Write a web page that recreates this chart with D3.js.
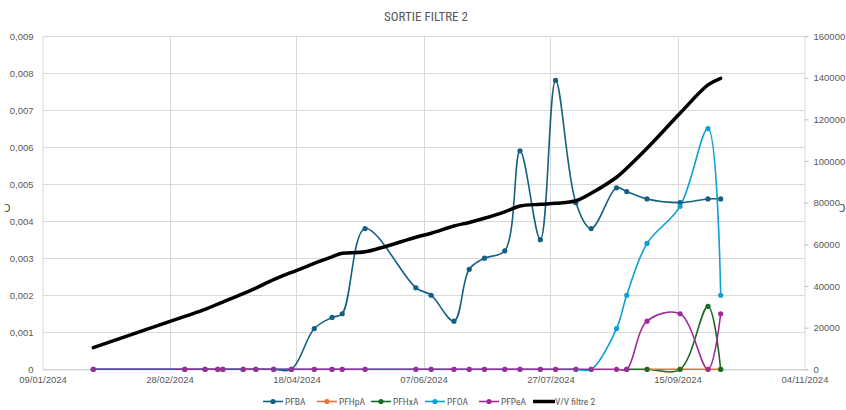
<!DOCTYPE html>
<html>
<head>
<meta charset="utf-8">
<script src="https://cdn.jsdelivr.net/npm/d3@7"></script>
<style>
  body { margin: 0; background: #fff; }
  svg { display: block; font-family: "Liberation Sans Narrow", "Roboto Condensed", "DejaVu Sans Condensed", sans-serif; }
</style>
</head>
<body>
<svg id="chart" width="846" height="410"></svg>
<script>
// sample dates (one row per measure)
var dates = [
  "2024-01-29", "2024-03-05", "2024-03-13", "2024-03-18", "2024-03-20",
  "2024-03-28", "2024-04-02", "2024-04-09", "2024-04-16", "2024-04-25",
  "2024-05-02", "2024-05-06", "2024-05-15", "2024-06-04", "2024-06-10",
  "2024-06-19", "2024-06-25", "2024-07-01", "2024-07-09", "2024-07-15",
  "2024-07-23", "2024-07-29", "2024-08-06", "2024-08-12", "2024-08-22",
  "2024-08-26", "2024-09-03", "2024-09-16", "2024-09-27", "2024-10-02"
];

var pfba = [0, 0, 0, 0, 0, 0, 0, 0, 0, 0.0011,
  0.0014, 0.0015, 0.0038, 0.0022, 0.002, 0.0013, 0.0027, 0.003, 0.0032, 0.0059,
  0.0035, 0.0078, 0.0045, 0.0038, 0.0049, 0.0048, 0.0046, 0.0045, 0.0046, 0.0046];

var pfhpa = [null, null, null, null, null, null, null, null, null, null,
  null, null, null, null, null, null, null, null, null, null,
  null, null, null, null, null, null, 0, 0, 0, 0];

var pfhxa = [null, null, null, null, null, null, null, null, null, null,
  null, null, null, null, null, null, null, null, null, null,
  null, null, null, null, null, 0, 0, 0, 0.0017, 0];

var pfoa = [0, 0, 0, 0, 0, 0, 0, 0, 0, 0,
  0, 0, 0, 0, 0, 0, 0, 0, 0, 0,
  0, 0, 0, 0, 0.0011, 0.002, 0.0034, 0.0044, 0.0065, 0.002];

var pfpea = [0, 0, 0, 0, 0, 0, 0, 0, 0, 0,
  0, 0, 0, 0, 0, 0, 0, 0, 0, 0,
  0, 0, 0, 0, 0, 0, 0.0013, 0.0015, 0, 0.0015];

var vvFiltre = [10400, 25400, 28800, 31300, 32300, 36300, 39000, 43000, 46500, 50900,
  54000, 55700, 56400, 63400, 65300, 68800, 70500, 72500, 75600, 78400,
  79200, 79700, 80900, 84500, 92200, 96500, 106100, 122900, 136500, 139700];

var xTicks = ["2024-01-09", "2024-02-28", "2024-04-18", "2024-06-07", "2024-07-27", "2024-09-15", "2024-11-04"];
var leftTicks = [0, 0.001, 0.002, 0.003, 0.004, 0.005, 0.006, 0.007, 0.008, 0.009];
var rightTicks = [0, 20000, 40000, 60000, 80000, 100000, 120000, 140000, 160000];

var seriesNames = ["PFBA", "PFHpA", "PFHxA", "PFOA", "PFPeA"];
var seriesValues = [pfba, pfhpa, pfhxa, pfoa, pfpea];
var seriesColors = ["#156082", "#E97132", "#196B24", "#0F9ED5", "#A02B93"];

var parseDate = d3.utcParse("%Y-%m-%d");
var fmtDate = d3.utcFormat("%d/%m/%Y");

var dims = { left: 42.5, right: 804.5, top: 36, bottom: 369.3 };
var textColor = "#595959";
var gridColor = "#d9d9d9";

var svg = d3.select("#chart");

// scales
var xScale = d3
  .scaleUtc()
  .domain([parseDate(xTicks[0]), parseDate(xTicks[xTicks.length - 1])])
  .range([dims.left, dims.right]);

var yLeft = d3
  .scaleLinear()
  .domain([0, 0.009])
  .range([dims.bottom, dims.top]);

var yRight = d3
  .scaleLinear()
  .domain([0, 160000])
  .range([dims.bottom, dims.top]);

// title
svg
  .append("text")
  .attr("x", 426)
  .attr("y", 21)
  .attr("text-anchor", "middle")
  .style("font-size", "13px")
  .attr("fill", textColor)
  .text("SORTIE FILTRE 2");

// clipped axis-title glyphs on the edges
svg.append("text").attr("x", 4).attr("y", 212).style("font-size", "10px").attr("fill", "#404040").text("Ɔ");
svg.append("text").attr("x", 839).attr("y", 212).style("font-size", "10px").attr("fill", "#404040").text("Ɔ");

// gridlines
svg
  .append("g")
  .selectAll("line")
  .data(leftTicks.slice(1))
  .enter()
  .append("line")
  .attr("x1", dims.left)
  .attr("x2", dims.right)
  .attr("y1", function (d) { return Math.round(yLeft(d)) + 0.5; })
  .attr("y2", function (d) { return Math.round(yLeft(d)) + 0.5; })
  .attr("stroke", gridColor);

svg
  .append("g")
  .selectAll("line")
  .data(xTicks.slice(1, -1))
  .enter()
  .append("line")
  .attr("x1", function (d) { return Math.round(xScale(parseDate(d))) + 0.5; })
  .attr("x2", function (d) { return Math.round(xScale(parseDate(d))) + 0.5; })
  .attr("y1", dims.top)
  .attr("y2", dims.bottom)
  .attr("stroke", gridColor);

// left axis
var leftAxis = d3
  .axisLeft(yLeft)
  .tickValues(leftTicks)
  .tickSize(0)
  .tickPadding(9)
  .tickFormat(function (d) {
    return d === 0 ? "0" : d.toFixed(3).replace(".", ",");
  });

var gLeft = svg
  .append("g")
  .attr("transform", "translate(" + dims.left + ",0)")
  .call(leftAxis);
gLeft.select(".domain").attr("stroke", gridColor);
gLeft.selectAll("text").attr("fill", textColor).style("font-size", "9.5px").style("font-family", null);

// right axis
var rightAxis = d3
  .axisRight(yRight)
  .tickValues(rightTicks)
  .tickSize(4)
  .tickPadding(5)
  .tickFormat(d3.format("d"));

var gRight = svg
  .append("g")
  .attr("transform", "translate(" + dims.right + ",0)")
  .call(rightAxis);
gRight.select(".domain").attr("stroke", gridColor);
gRight.selectAll("line").attr("stroke", "#bfbfbf");
gRight.selectAll("text").attr("fill", textColor).style("font-size", "9.5px").style("font-family", null);

// bottom axis
var bottomAxis = d3
  .axisBottom(xScale)
  .tickValues(xTicks.map(parseDate))
  .tickSize(0)
  .tickPadding(7)
  .tickFormat(fmtDate);

var gBottom = svg
  .append("g")
  .attr("transform", "translate(0," + dims.bottom + ")")
  .call(bottomAxis);
gBottom.select(".domain").attr("stroke", "#bfbfbf");
gBottom.selectAll("text").attr("fill", textColor).style("font-size", "9.5px").style("font-family", null);

// series lines (PFHpA drawn over PFHxA so the orange baseline shows)
var rows = dates.map(parseDate);
var lineLeft = d3
  .line()
  .x(function (d) { return xScale(d.date); })
  .y(function (d) { return yLeft(d.v); })
  .curve(d3.curveCatmullRom.alpha(0.5));

function pairs(values) {
  return rows
    .map(function (dt, i) {
      return { date: dt, v: values[i] };
    })
    .filter(function (d) { return d.v !== null; });
}

var lineOrder = [0, 2, 1, 3, 4];
lineOrder.forEach(function (k) {
  svg
    .append("path")
    .datum(pairs(seriesValues[k]))
    .attr("d", lineLeft)
    .attr("fill", "none")
    .attr("stroke", seriesColors[k])
    .attr("stroke-width", 1.6);
});

// markers
seriesValues.forEach(function (values, k) {
  svg
    .append("g")
    .selectAll("circle")
    .data(pairs(values))
    .enter()
    .append("circle")
    .attr("cx", function (d) { return xScale(d.date); })
    .attr("cy", function (d) { return yLeft(d.v); })
    .attr("r", 2.6)
    .attr("fill", seriesColors[k]);
});

// V/V filtre 2 on the secondary axis
var lineRight = d3
  .line()
  .x(function (d) { return xScale(d.date); })
  .y(function (d) { return yRight(d.v); })
  .curve(d3.curveCatmullRom.alpha(0.5));

svg
  .append("path")
  .datum(pairs(vvFiltre))
  .attr("d", lineRight)
  .attr("fill", "none")
  .attr("stroke", "#000")
  .attr("stroke-width", 3.5)
  .attr("stroke-linecap", "round");

// legend
var legendNames = seriesNames.concat(["V/V filtre 2"]);
var legend = svg
  .append("g")
  .attr("transform", "translate(263,401.5)");

legendNames.forEach(function (name, i) {
  var item = legend.append("g").attr("transform", "translate(" + i * 54 + ",0)");
  var isVV = i === seriesNames.length;
  item
    .append("line")
    .attr("x1", 0)
    .attr("x2", isVV ? 22 : 20)
    .attr("y1", 0)
    .attr("y2", 0)
    .attr("stroke", isVV ? "#000" : seriesColors[i])
    .attr("stroke-width", isVV ? 3.5 : 1.6);
  if (!isVV) {
    item.append("circle").attr("cx", 10).attr("cy", 0).attr("r", 2.6).attr("fill", seriesColors[i]);
  }
  item
    .append("text")
    .attr("x", 22)
    .attr("y", 3.3)
    .style("font-size", "9.5px")
    .attr("fill", textColor)
    .text(name);
});
</script>
</body>
</html>
